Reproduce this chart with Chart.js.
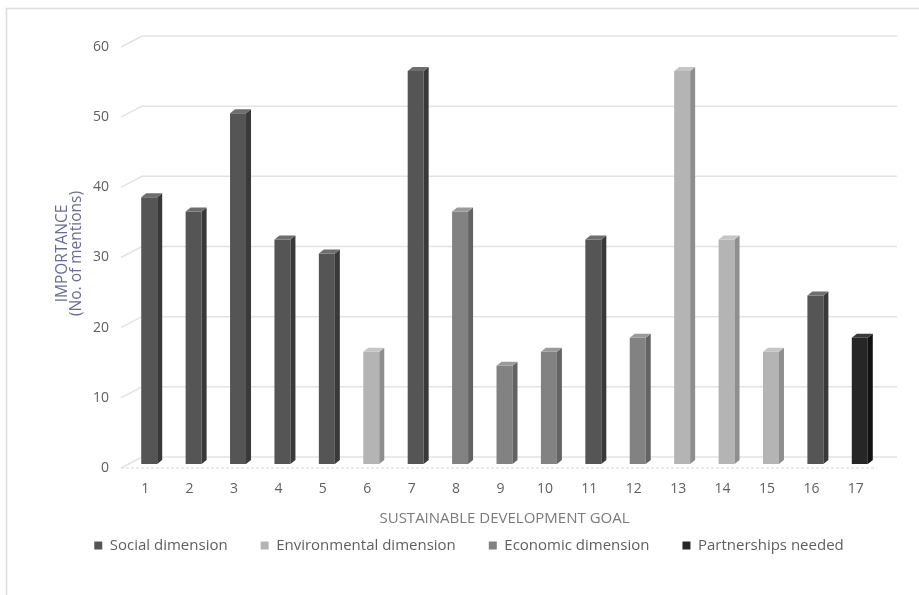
<!DOCTYPE html>
<html>
<head>
<meta charset="utf-8">
<script src="https://cdn.jsdelivr.net/npm/chart.js@4.4.1/dist/chart.umd.min.js"></script>
<style>
  html, body { margin: 0; padding: 0; background: #ffffff; }
  #wrap { width: 919px; height: 595px; position: relative; }
</style>
</head>
<body>
<div id="wrap"><canvas id="sdg"></canvas></div>
<script>
// Sustainable Development Goals, 1..17
const goals = ['1','2','3','4','5','6','7','8','9','10','11','12','13','14','15','16','17'];

// Number of mentions per goal, split by dimension (null where the goal belongs elsewhere)
const social        = [38, 36, 50, 32, 30, null, 56, null, null, null, 32, null, null, null, null, 24, null];
const environmental = [null, null, null, null, null, 16, null, null, null, null, null, null, 56, 32, 16, null, null];
const economic      = [null, null, null, null, null, null, null, 36, 14, 16, null, 18, null, null, null, null, null];
const partnerships  = [null, null, null, null, null, null, null, null, null, null, null, null, null, null, null, null, 18];

const seriesNames = ['Social dimension', 'Environmental dimension', 'Economic dimension', 'Partnerships needed'];
const yTicks = [0, 10, 20, 30, 40, 50, 60];

const FONT = '"Open Sans", Lato, sans-serif';
const faces = {
  front: ['#555555', '#b4b4b4', '#828282', '#262626'],
  side:  ['#393939', '#8e8e8e', '#636363', '#121212'],
  top:   ['#6e6e6e', '#c6c6c6', '#9a9a9a', '#3a3a3a']
};
const DEPTH_X = 5, DEPTH_Y = 4;

// Outer frame of the chart object
const framePlugin = {
  id: 'frame',
  beforeDraw(chart) {
    const c = chart.ctx;
    c.save();
    c.fillStyle = '#ffffff';
    c.fillRect(0, 0, chart.width, chart.height);
    c.strokeStyle = '#dddddd';
    c.lineWidth = 1.5;
    c.beginPath();
    c.moveTo(6.5, chart.height);
    c.lineTo(6.5, 8.5);
    c.lineTo(chart.width, 8.5);
    c.stroke();
    c.restore();
  }
};

// Back-wall gridlines with their perspective connectors and the floor edge
const wallPlugin = {
  id: 'wall',
  beforeDatasetsDraw(chart) {
    const c = chart.ctx;
    const ys = chart.scales.y;
    const area = chart.chartArea;
    c.save();
    c.strokeStyle = '#e3e3e3';
    c.lineWidth = 1.5;
    yTicks.forEach(v => {
      const py = ys.getPixelForValue(v);
      c.beginPath();
      c.moveTo(area.left - 6, py + 4);
      c.lineTo(area.left + 15, py - 7);
      c.lineTo(area.right + 15, py - 7);
      c.stroke();
    });
    // floor front edge
    const p0 = ys.getPixelForValue(0);
    c.setLineDash([3, 2]);
    c.beginPath();
    c.moveTo(area.left - 6, p0 + 4);
    c.lineTo(area.right - 5, p0 + 4);
    c.stroke();
    c.restore();
  },
  // side and top faces of each bar
  afterDatasetsDraw(chart) {
    const c = chart.ctx;
    c.save();
    chart.data.datasets.forEach((ds, di) => {
      const meta = chart.getDatasetMeta(di);
      meta.data.forEach((bar, i) => {
        if (ds.data[i] === null || ds.data[i] === undefined) return;
        const { x, y, base, width } = bar.getProps(['x', 'y', 'base', 'width'], true);
        const l = x - width / 2, r = x + width / 2;
        c.fillStyle = faces.side[di];
        c.beginPath();
        c.moveTo(r, y);
        c.lineTo(r + DEPTH_X, y - DEPTH_Y);
        c.lineTo(r + DEPTH_X, base - DEPTH_Y);
        c.lineTo(r, base);
        c.closePath();
        c.fill();
        c.fillStyle = faces.top[di];
        c.beginPath();
        c.moveTo(l, y);
        c.lineTo(l + DEPTH_X, y - DEPTH_Y);
        c.lineTo(r + DEPTH_X, y - DEPTH_Y);
        c.lineTo(r, y);
        c.closePath();
        c.fill();
      });
    });
    c.restore();
  }
};

const seriesData = [social, environmental, economic, partnerships];

new Chart(document.getElementById('sdg'), {
  type: 'bar',
  data: {
    labels: goals,
    datasets: seriesData.map((d, i) => ({
      label: seriesNames[i],
      data: d,
      backgroundColor: faces.front[i],
      borderWidth: 0,
      categoryPercentage: 1,
      barPercentage: 0.36
    }))
  },
  options: {
    responsive: true,
    maintainAspectRatio: false,
    animation: false,
    devicePixelRatio: 1,
    layout: { padding: { left: 56, right: 37, top: 43, bottom: 32 } },
    plugins: {
      tooltip: { enabled: false },
      legend: {
        position: 'bottom',
        labels: {
          boxWidth: 8,
          boxHeight: 8,
          padding: 33,
          color: '#5f5f5f',
          font: { family: FONT, size: 15 }
        }
      }
    },
    scales: {
      x: {
        stacked: true,
        grid: { display: false, drawTicks: false },
        border: { display: false },
        afterFit(scale) { scale.height = 41; },
        ticks: {
          color: '#5f5f5f',
          padding: 17,
          labelOffset: -4,
          font: { family: FONT, size: 14 }
        },
        title: {
          display: true,
          text: 'SUSTAINABLE DEVELOPMENT GOAL',
          color: '#7a7a7a',
          padding: { top: 0, bottom: -23 },
          font: { family: FONT, size: 15 }
        }
      },
      y: {
        stacked: true,
        min: 0,
        max: 60,
        grid: { display: false, drawTicks: false },
        border: { display: false },
        afterBuildTicks(scale) { scale.ticks = yTicks.map(v => ({ value: v })); },
        afterFit(scale) { scale.width = 71; },
        ticks: {
          color: '#5f5f5f',
          padding: 18,
          labelOffset: 4,
          font: { family: FONT, size: 14 }
        },
        title: {
          display: true,
          text: ['IMPORTANCE', '(No. of mentions)'],
          color: '#6b6b98',
          padding: { top: 0, bottom: 0 },
          font: { family: FONT, size: 15.5, lineHeight: 0.9 }
        }
      }
    }
  },
  plugins: [framePlugin, wallPlugin]
});
</script>
</body>
</html>
